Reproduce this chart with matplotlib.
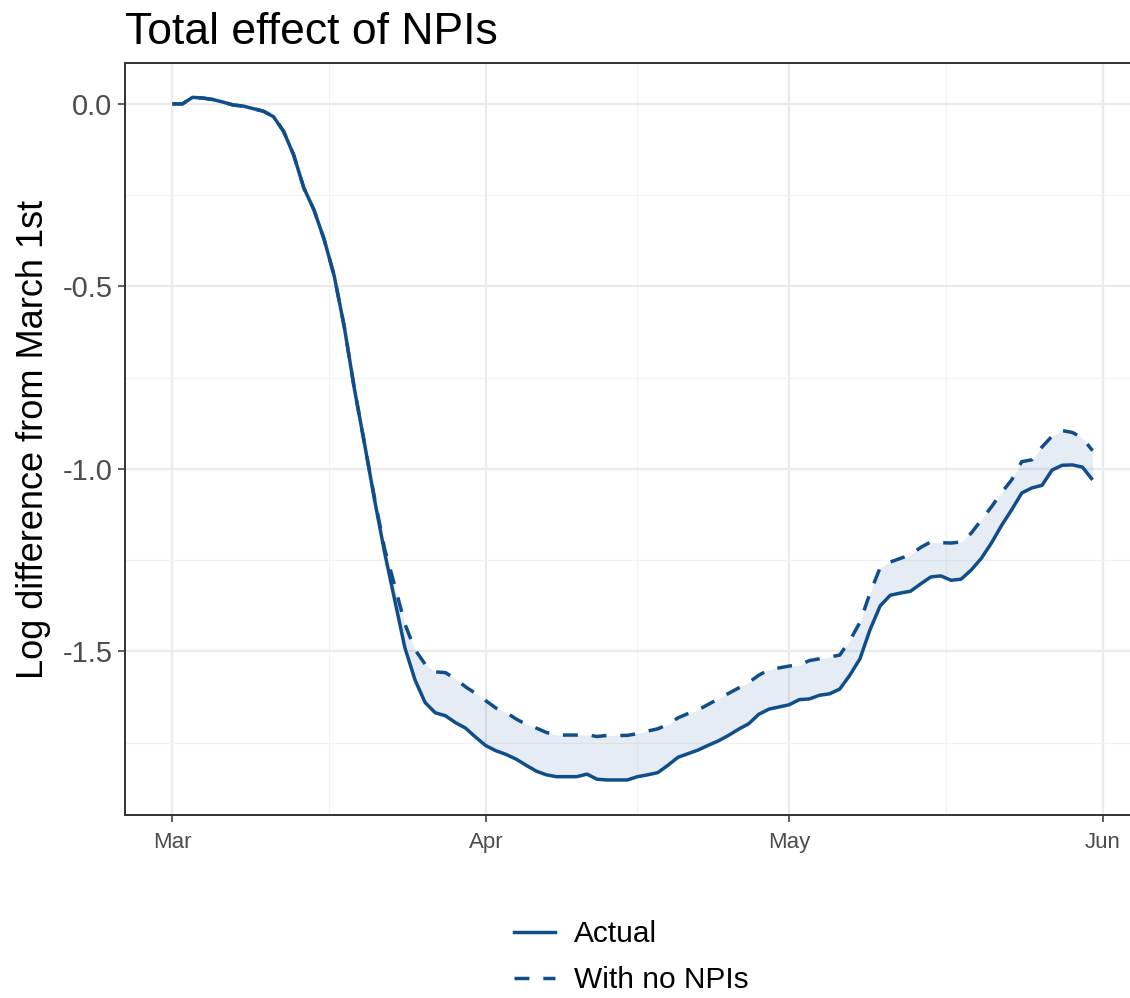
import numpy as np
import pandas as pd
import matplotlib
matplotlib.use("Agg")
import matplotlib.pyplot as plt
import matplotlib.dates as mdates
from matplotlib.lines import Line2D
from matplotlib import font_manager

# ---------------- data ----------------
start_date = "2020-03-01"
actual = [
    0.000, 0.000, 0.018, 0.016, 0.012, 0.005, -0.003, -0.006, -0.013, -0.020,
    -0.035, -0.075, -0.140, -0.230, -0.290, -0.370, -0.470, -0.610, -0.780, -0.930,
    -1.085, -1.230, -1.360, -1.490, -1.578, -1.640, -1.668, -1.676, -1.695, -1.710,
    -1.735, -1.758, -1.772, -1.782, -1.795, -1.812, -1.828, -1.838, -1.843, -1.843,
    -1.843, -1.836, -1.850, -1.852, -1.852, -1.852, -1.843, -1.838, -1.832, -1.812,
    -1.790, -1.780, -1.770, -1.757, -1.745, -1.730, -1.713, -1.698, -1.672, -1.658,
    -1.652, -1.646, -1.632, -1.630, -1.620, -1.616, -1.603, -1.565, -1.520, -1.440,
    -1.375, -1.346, -1.340, -1.335, -1.315, -1.296, -1.293, -1.305, -1.302, -1.277,
    -1.245, -1.203, -1.155, -1.112, -1.066, -1.052, -1.045, -1.003, -0.990, -0.989,
    -0.995, -1.030,
]
no_npis = [
    0.000, 0.000, 0.018, 0.016, 0.012, 0.005, -0.003, -0.006, -0.013, -0.020,
    -0.035, -0.075, -0.140, -0.230, -0.290, -0.370, -0.470, -0.610, -0.780, -0.930,
    -1.080, -1.220, -1.320, -1.425, -1.495, -1.535, -1.556, -1.558, -1.575, -1.597,
    -1.615, -1.635, -1.655, -1.667, -1.685, -1.700, -1.710, -1.722, -1.729, -1.729,
    -1.729, -1.728, -1.733, -1.730, -1.730, -1.730, -1.725, -1.718, -1.712, -1.700,
    -1.682, -1.670, -1.660, -1.645, -1.630, -1.615, -1.600, -1.585, -1.565, -1.550,
    -1.545, -1.540, -1.537, -1.525, -1.520, -1.515, -1.510, -1.470, -1.420, -1.340,
    -1.270, -1.255, -1.245, -1.235, -1.215, -1.200, -1.202, -1.203, -1.200, -1.176,
    -1.140, -1.104, -1.065, -1.030, -0.980, -0.975, -0.940, -0.910, -0.895, -0.900,
    -0.915, -0.950,
]
series_labels = ["Actual", "With no NPIs"]
title = "Total effect of NPIs"
ylabel = "Log difference from March 1st"
month_ticks = ["2020-03-01", "2020-04-01", "2020-05-01", "2020-06-01"]
month_labels = ["Mar", "Apr", "May", "Jun"]
y_ticks = [0.0, -0.5, -1.0, -1.5]

dates = pd.date_range(start_date, periods=len(actual), freq="D")

# ---------------- style ----------------
avail = {f.name for f in font_manager.fontManager.ttflist}
base_font = ["Liberation Sans", "DejaVu Sans"]
narrow_font = (["Liberation Sans Narrow"] if "Liberation Sans Narrow" in avail else []) + base_font
plt.rcParams["font.family"] = base_font

line_col = "#104E8B"
fill_col = line_col
LW = 2.5
DASH = (4.3, 4.0)

W, H = 1130, 998
fig = plt.figure(figsize=(W / 100, H / 100), dpi=100)
left, right, top, bottom = 125, 1134, 63, 815
ax = fig.add_axes([left / W, 1 - bottom / H, (right - left) / W, (bottom - top) / H])

ax.fill_between(dates, actual, no_npis, color=fill_col, alpha=0.1, linewidth=0, zorder=2)
ax.plot(dates, actual, color=line_col, lw=LW, solid_capstyle="butt", zorder=3)
ax.plot(dates, no_npis, color=line_col, lw=LW, dashes=DASH, zorder=3)

x0 = mdates.date2num(pd.Timestamp(start_date))
ax.set_xlim(x0 - 4.68, x0 + 95.1)
ax.set_ylim(-1.948, 0.112)

mt = mdates.date2num(pd.to_datetime(month_ticks))
ax.set_xticks(mt)
ax.set_xticklabels(month_labels)
ax.set_xticks((mt[:-1] + mt[1:]) / 2, minor=True)
ax.set_yticks(y_ticks)
ax.set_yticklabels([f"{v:.1f}" for v in y_ticks])
ax.set_yticks([-0.25, -0.75, -1.25, -1.75], minor=True)

ax.grid(which="major", color="#EBEBEB", lw=1.6, zorder=0)
ax.grid(which="minor", color="#F2F2F2", lw=0.9, zorder=0)
ax.set_axisbelow(True)

for s in ax.spines.values():
    s.set_color("#333333")
    s.set_linewidth(1.4)
ax.spines["right"].set_visible(False)

ax.tick_params(which="major", length=5, width=1.1, color="#333333", colors="#4D4D4D")
ax.tick_params(which="minor", length=0)
ax.tick_params(axis="y", labelsize=21, pad=4, labelcolor="#4D4D4D")
ax.tick_params(axis="x", labelsize=16, pad=7, labelcolor="#4D4D4D")
for lab in ax.get_xticklabels():
    lab.set_family(narrow_font)

ax.set_ylabel(ylabel, fontsize=26, color="black", labelpad=8)
fig.text(125 / W, 1 - 44 / H, title, fontsize=32, ha="left", va="baseline", color="black")

handles = [
    Line2D([], [], color=line_col, lw=LW),
    Line2D([], [], color=line_col, lw=LW, dashes=DASH),
]
fig.legend(handles, series_labels, loc="center", bbox_to_anchor=(0.559, 1 - 957 / H),
           frameon=False, fontsize=21.5, handlelength=1.35, handletextpad=0.65,
           labelspacing=0.6, ncol=1)

fig.savefig("out.png", dpi=100, facecolor="white")
